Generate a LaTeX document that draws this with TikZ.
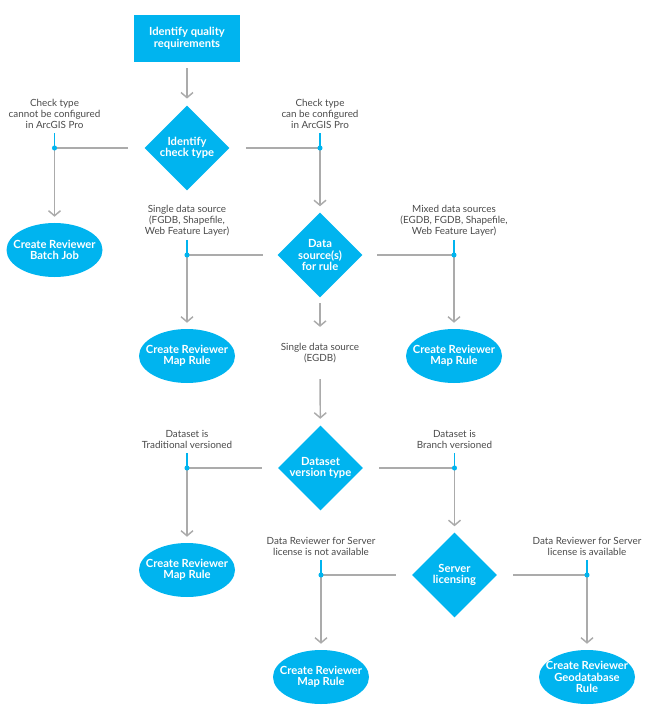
\documentclass[tikz,border=0pt]{standalone}
\usepackage{fontspec}
\setmainfont{Lato}
\usetikzlibrary{arrows.meta,positioning,shapes.geometric}
\definecolor{esriblue}{HTML}{00B4EF}
\definecolor{linegray}{HTML}{ABABAB}
\definecolor{notegray}{HTML}{4A4A4A}
\newcommand{\boxfont}{\bfseries\fontsize{8.4}{8.6}\selectfont}
\newcommand{\notefont}{\fontsize{7.4}{8.25}\selectfont}

\begin{document}
\begin{tikzpicture}[x=0.75pt,y=-0.75pt,
    flow/.style={draw=linegray,line width=1.1pt,
      -{Straight Barb[length=3.8pt,width=9pt,line width=1.1pt]}},
    tick/.style={draw=esriblue,line width=1.1pt},
    note/.style={text=notegray,font=\notefont,align=center,inner sep=3pt},
    start/.style={rectangle,fill=esriblue,text=white,font=\boxfont,align=center,
      minimum width=79.5pt,minimum height=35pt},
    choice/.style={diamond,aspect=1,fill=esriblue,text=white,font=\boxfont,
      align=center,inner sep=0pt,minimum size=63.75pt},
    finish/.style={ellipse,fill=esriblue,text=white,font=\boxfont,align=center,
      inner xsep=-10pt,inner ysep=0pt,minimum width=72pt,minimum height=40.5pt}]
    \useasboundingbox (0,0) rectangle (650,720);
    % shapes
    \node[start]  (req)   at (187,38.5) {Identify quality\\requirements};
    \node[choice] (chk)   at (187,148)  {Identify\\check type};
    \node[finish] (batch) at (54.5,250) {Create Reviewer\\Batch Job};
    \node[choice] (src)   at (320,255)  {Data\\source(s)\\for rule};
    \node[finish] (map1)  at (187,356)  {Create Reviewer\\Map Rule};
    \node[finish] (map2)  at (454,356)  {Create Reviewer\\Map Rule};
    \node[choice] (ver)   at (320.5,468) {Dataset\\version type};
    \node[finish] (map3)  at (187,570)  {Create Reviewer\\Map Rule};
    \node[choice] (lic)   at (454.5,575) {Server\\licensing};
    \node[finish] (map4)  at (321,677)  {Create Reviewer\\Map Rule};
    \node[finish] (gdb)   at (587,677)  {Create Reviewer\\Geodatabase\\Rule};
    % junctions
    \coordinate (jcant)   at (batch |- chk);
    \coordinate (jcan)    at (src |- chk);
    \coordinate (jsingle) at (map1 |- src);
    \coordinate (jmixed)  at (map2 |- src);
    \coordinate (jtrad)   at (map3 |- ver);
    \coordinate (jbranch) at (lic |- ver);
    \coordinate (jnot)    at (map4 |- lic);
    \coordinate (javail)  at (gdb |- lic);
    % labels
    \node[note,above=11pt of jcant]   (lcant)   {Check type\\cannot be configured\\in ArcGIS Pro};
    \node[note,above=11pt of jcan]    (lcan)    {Check type\\can be configured\\in ArcGIS Pro};
    \node[note,above=11pt of jsingle] (lsingle) {Single data source\\(FGDB, Shapefile,\\Web Feature Layer)};
    \node[note,above=11pt of jmixed]  (lmixed)  {Mixed data sources\\(EGDB, FGDB, Shapefile,\\Web Feature Layer)};
    \node[note] (legdb) at (320,353) {Single data source\\(EGDB)};
    \node[note,above=11pt of jtrad]   (ltrad)   {Dataset is\\Traditional versioned};
    \node[note,above=11pt of jbranch] (lbranch) {Dataset is\\Branch versioned};
    \node[note,above=11pt of jnot]    (lnot)    {Data Reviewer for Server\\license is not available};
    \node[note,above=11pt of javail]  (lavail)  {Data Reviewer for Server\\license is available};
    % connectors
    \draw[flow,shorten <=4.5pt,shorten >=5pt] (req) -- (chk);
    \draw[flow,shorten <=12pt,shorten >=4.5pt] (chk.west) -| (batch.north);
    \draw[flow,shorten <=12pt,shorten >=4.5pt] (chk.east) -| (src.north);
    \draw[flow,shorten <=11pt,shorten >=4.5pt] (src.west) -| (map1.north);
    \draw[flow,shorten <=11pt,shorten >=4.5pt] (src.east) -| (map2.north);
    \draw[flow,shorten <=4pt,shorten >=9pt] (src) -- (legdb);
    \draw[flow,shorten <=9pt,shorten >=5pt] (legdb) -- (ver);
    \draw[flow,shorten <=12pt,shorten >=4.5pt] (ver.west) -| (map3.north);
    \draw[flow,shorten <=12pt,shorten >=4.5pt] (ver.east) -| (lic.north);
    \draw[flow,shorten <=12pt,shorten >=4.5pt] (lic.west) -| (map4.north);
    \draw[flow,shorten <=12pt,shorten >=4.5pt] (lic.east) -| (gdb.north);
    % blue ticks and dots
    \foreach \lbl/\jn in {lcant/jcant,lcan/jcan,lsingle/jsingle,lmixed/jmixed,
        ltrad/jtrad,lbranch/jbranch,lnot/jnot,lavail/javail}{
      \draw[tick] (\lbl.south) -- (\jn);
      \fill[esriblue] (\jn) circle (1.9pt);
    }
  \end{tikzpicture}
\end{document}
